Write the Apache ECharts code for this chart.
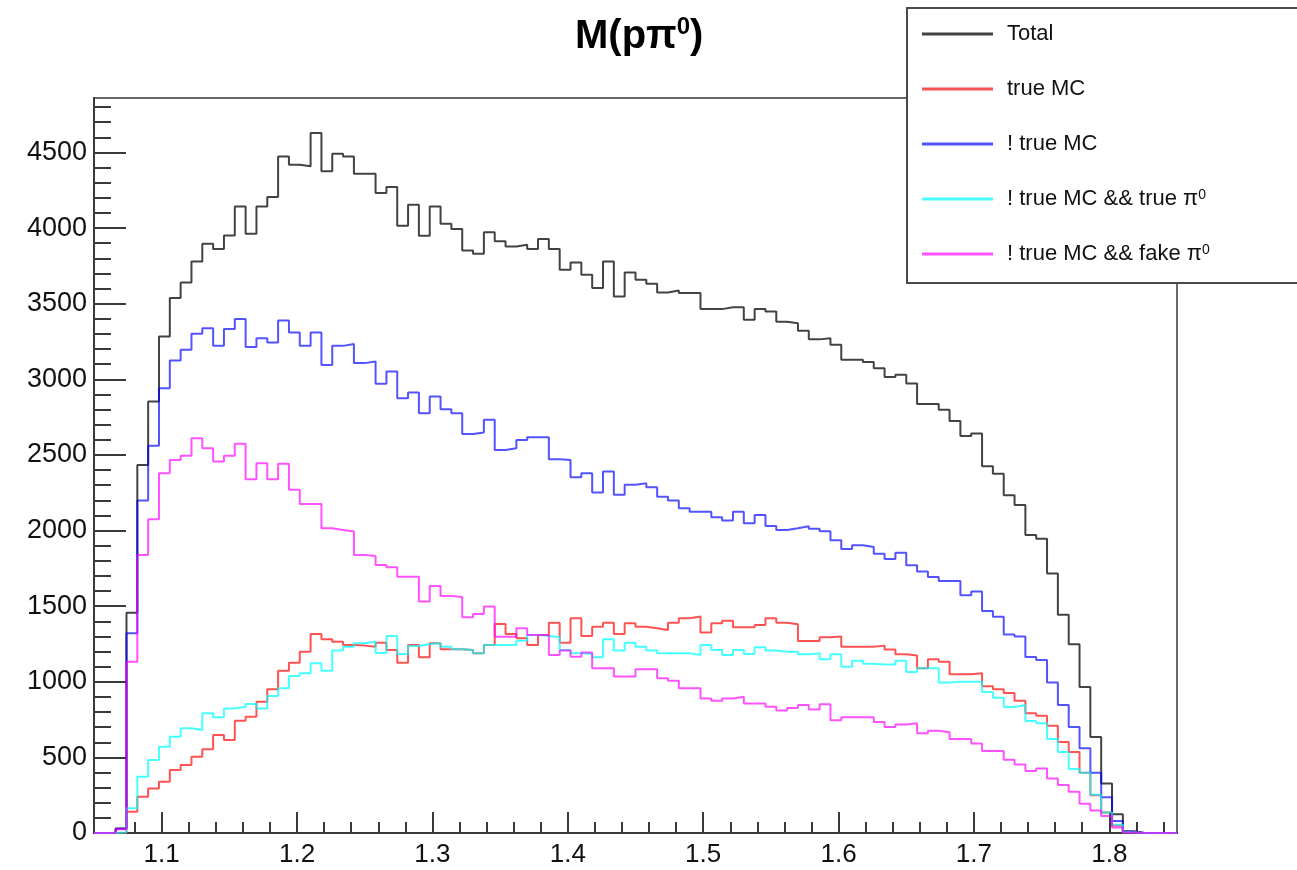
<!DOCTYPE html>
<html>
<head>
<meta charset="utf-8">
<script src="https://cdn.jsdelivr.net/npm/echarts@6/dist/echarts.min.js"></script>
<style>
html,body{margin:0;padding:0;background:#fff;}
#c{width:1297px;height:870px;}
</style>
</head>
<body>
<div id="c"></div>
<script>
// ---- histogram binning ----
const BIN_LO = 1.05;
const BIN_W = 0.008;
const X_MIN = 1.05, X_MAX = 1.85;
const Y_MIN = 0, Y_MAX = 4860;

// ---- tick labels ----
const X_MAJOR = [1.1, 1.2, 1.3, 1.4, 1.5, 1.6, 1.7, 1.8];
const X_MINOR_STEP = 0.02;
const Y_MAJOR = [0, 500, 1000, 1500, 2000, 2500, 3000, 3500, 4000, 4500];
const Y_MINOR_STEP = 100;

// ---- series names ----
const NAMES = ['Total', 'true MC', '! true MC', '! true MC && true π0', '! true MC && fake π0'];

// ---- bin contents (100 bins, 1.05 .. 1.85) ----
const total = [0,0,30,1457,2434,2853,3283,3537,3640,3779,
  3896,3861,3951,4143,3962,4143,4205,4474,4419,4408,
  4628,4375,4491,4474,4359,4359,4232,4271,4015,4154,
  3949,4143,4028,3993,3852,3830,3973,3912,3878,3889,
  3861,3927,3861,3724,3772,3691,3603,3779,3547,3706,
  3658,3631,3574,3587,3570,3570,3464,3464,3477,3477,
  3393,3464,3448,3380,3371,3321,3264,3272,3229,3130,
  3130,3115,3073,3016,3030,2973,2836,2836,2799,2724,
  2625,2642,2425,2376,2234,2169,1970,1946,1716,1443,
  1248,965,634,328,124,12,0,0,0,0];

const trueMC = [0,0,2,140,240,295,339,416,449,504,
  553,648,615,742,769,868,950,1073,1126,1199,
  1316,1281,1265,1243,1239,1232,1258,1210,1126,1243,
  1162,1254,1215,1215,1210,1188,1243,1382,1316,1287,
  1243,1309,1391,1258,1420,1303,1364,1391,1316,1387,
  1364,1354,1342,1391,1420,1431,1325,1387,1404,1360,
  1360,1375,1420,1390,1381,1269,1269,1294,1299,1231,
  1231,1231,1239,1214,1182,1174,1090,1149,1132,1050,
  1050,1057,970,950,925,875,791,776,709,601,
  535,398,249,136,50,4,0,0,0,0];

const notTrueMC = [0,0,28,1320,2198,2560,2941,3124,3195,3301,
  3338,3221,3332,3398,3213,3272,3243,3389,3309,3221,
  3309,3095,3221,3234,3107,3118,2970,3051,2875,2912,
  2776,2886,2802,2776,2639,2648,2732,2533,2544,2599,
  2617,2617,2472,2467,2352,2379,2251,2390,2236,2302,
  2313,2286,2224,2198,2147,2125,2125,2088,2066,2125,
  2048,2103,2030,2004,2015,2028,2011,1995,1935,1878,
  1903,1891,1846,1811,1853,1771,1729,1692,1667,1667,
  1572,1597,1468,1430,1313,1299,1164,1144,995,846,
  701,560,398,236,79,8,0,0,0,0];

const notTrueTruePi0 = [0,0,3,163,372,482,570,636,692,681,
  791,765,824,835,853,824,906,957,1038,1056,
  1122,1073,1206,1232,1254,1265,1190,1303,1183,1237,
  1250,1254,1232,1215,1210,1188,1243,1243,1243,1272,
  1309,1303,1294,1210,1188,1183,1162,1281,1206,1258,
  1232,1206,1188,1188,1188,1177,1243,1210,1177,1210,
  1183,1228,1206,1199,1199,1182,1189,1149,1182,1100,
  1139,1119,1114,1114,1139,1064,1090,1090,995,1000,
  1000,1000,933,895,833,846,741,726,622,535,
  423,398,253,136,54,5,0,0,0,0];

const notTrueFakePi0 = [0,0,25,1133,1838,2075,2379,2467,2494,2611,
  2544,2456,2494,2573,2339,2445,2339,2441,2269,2176,
  2176,2015,2004,1993,1838,1832,1772,1757,1695,1695,
  1530,1634,1567,1560,1426,1448,1497,1298,1298,1354,
  1309,1309,1177,1206,1166,1193,1089,1089,1034,1034,
  1082,1082,1023,1007,957,957,890,875,890,901,
  857,857,835,810,826,846,816,851,746,766,
  766,766,734,701,717,726,659,676,666,622,
  622,592,542,542,485,453,410,427,361,318,
  273,194,149,112,37,3,0,0,0,0];

const COLORS = ['rgba(0,0,0,0.74)', 'rgba(255,0,0,0.68)', 'rgba(0,0,255,0.68)', 'rgba(0,255,255,0.72)', 'rgba(255,0,255,0.68)'];
const FONT = "'Liberation Sans', Arial, Helvetica, sans-serif";

// step-histogram points: left edge of each bin, then the right edge of the last bin
function hist(vals) {
  const pts = vals.map((v, i) => [+(BIN_LO + i * BIN_W).toFixed(4), v]);
  pts.push([+(BIN_LO + vals.length * BIN_W).toFixed(4), vals[vals.length - 1]]);
  return pts;
}

const xMinor = [];
for (let k = Math.round(X_MIN / X_MINOR_STEP) + 1; k * X_MINOR_STEP < X_MAX; k++) {
  const v = +(k * X_MINOR_STEP).toFixed(3);
  if (v > X_MIN && !X_MAJOR.some(m => Math.abs(m - v) < 1e-6)) xMinor.push(v);
}
const yMinor = [];
for (let v = Y_MINOR_STEP; v < Y_MAX; v += Y_MINOR_STEP) {
  if (v % 500 !== 0) yMinor.push(v);
}

const AX = '#3a3a3a';
const chart = echarts.init(document.getElementById('c'), null, {renderer: 'canvas'});

const seriesData = [total, trueMC, notTrueMC, notTrueTruePi0, notTrueFakePi0];

chart.setOption({
  animation: false,
  backgroundColor: '#fff',
  title: {
    text: '{a|M(pπ}{s|0}{a|)}',
    left: 575,
    top: 15,
    padding: 0,
    textStyle: {
      rich: {
        a: {fontSize: 40, fontWeight: 'bold', fontFamily: FONT, color: '#000', lineHeight: 44},
        s: {fontSize: 24, fontWeight: 'bold', fontFamily: FONT, color: '#000', verticalAlign: 'top', lineHeight: 24}
      }
    }
  },
  graphic: [{
    type: 'rect',
    z: 50,
    shape: {x: 907, y: 8, width: 420, height: 275},
    style: {fill: '#fff', stroke: '#4a4a4a', lineWidth: 2}
  }],
  legend: {
    z: 60,
    orient: 'vertical',
    left: 922,
    top: 23,
    itemWidth: 71,
    itemHeight: 3,
    itemGap: 33,
    icon: 'rect',
    padding: 0,
    data: NAMES,
    formatter: function (name) {
      if (name.endsWith('π0')) return '{a|' + name.slice(0, -1) + '}{s|0}';
      return '{a|' + name + '}';
    },
    textStyle: {
      padding: [0, 0, 0, 9],
      rich: {
        a: {fontSize: 22, fontFamily: FONT, color: '#111', lineHeight: 22},
        s: {fontSize: 14, fontFamily: FONT, color: '#111', verticalAlign: 'top', lineHeight: 14}
      }
    }
  },
  grid: {
    left: 94, right: 120, top: 98, bottom: 37,
    show: true, borderColor: '#6a6a6a', borderWidth: 2,
    outerBoundsMode: 'none'
  },
  xAxis: [{
    type: 'value', min: X_MIN, max: X_MAX, position: 'bottom',
    axisLine: {show: true, onZero: false, lineStyle: {color: AX, width: 2}},
    axisTick: {show: true, inside: true, length: 21, customValues: X_MAJOR, lineStyle: {color: AX, width: 2}},
    axisLabel: {show: true, customValues: X_MAJOR, margin: 9, fontSize: 26, fontFamily: FONT, color: '#111',
      formatter: v => Number(v).toFixed(1)},
    splitLine: {show: false}
  }, {
    type: 'value', min: X_MIN, max: X_MAX, position: 'bottom',
    axisLine: {show: false, onZero: false},
    axisTick: {show: true, inside: true, length: 11, customValues: xMinor, lineStyle: {color: AX, width: 2}},
    axisLabel: {show: false},
    splitLine: {show: false}
  }],
  yAxis: [{
    type: 'value', min: Y_MIN, max: Y_MAX, position: 'left',
    axisLine: {show: true, onZero: false, lineStyle: {color: AX, width: 2}},
    axisTick: {show: true, inside: true, length: 32, customValues: Y_MAJOR, lineStyle: {color: AX, width: 2}},
    axisLabel: {show: true, customValues: Y_MAJOR, margin: 7, fontSize: 27, fontFamily: FONT, color: '#111',
      formatter: v => String(Math.round(v))},
    splitLine: {show: false}
  }, {
    type: 'value', min: Y_MIN, max: Y_MAX, position: 'left',
    axisLine: {show: false, onZero: false},
    axisTick: {show: true, inside: true, length: 17, customValues: yMinor, lineStyle: {color: AX, width: 2}},
    axisLabel: {show: false},
    splitLine: {show: false}
  }],
  series: seriesData.map((vals, k) => ({
    name: NAMES[k],
    type: 'line',
    step: 'end',
    xAxisIndex: 0,
    yAxisIndex: 0,
    symbol: 'none',
    clip: true,
    data: hist(vals),
    itemStyle: {color: COLORS[k]},
    lineStyle: {color: COLORS[k], width: 2},
    z: 2 + k
  }))
});
</script>
</body>
</html>
